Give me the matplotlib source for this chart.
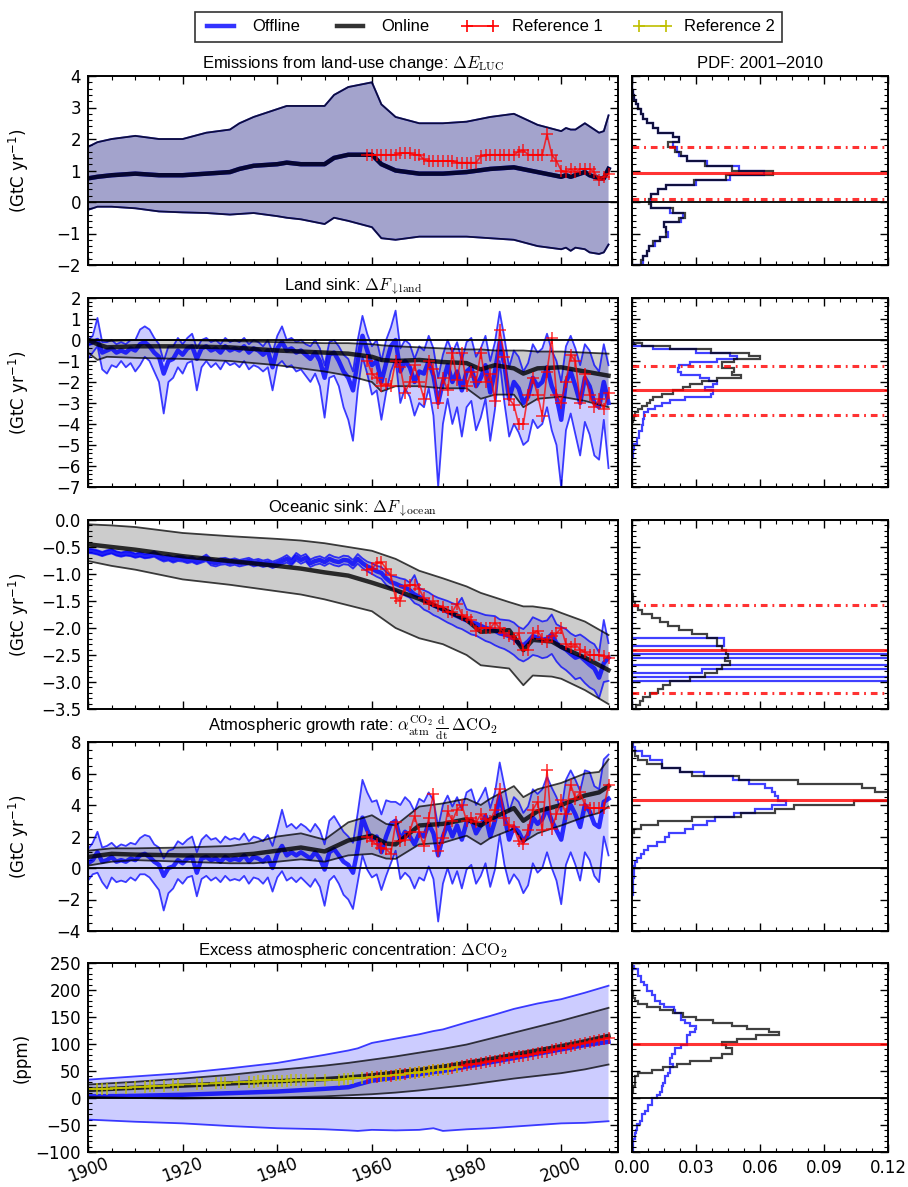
import numpy as np
import matplotlib
matplotlib.use("Agg")
import matplotlib.pyplot as plt
from matplotlib.lines import Line2D
from matplotlib.ticker import AutoMinorLocator, MultipleLocator, FormatStrFormatter

plt.rcParams.update({
    "font.family": "DejaVu Sans",
    "font.size": 12,
    "mathtext.fontset": "cm",
    "axes.linewidth": 1.4,
    "xtick.direction": "in",
    "ytick.direction": "in",
    "xtick.top": True,
    "ytick.right": True,
    "xtick.major.size": 6,
    "ytick.major.size": 6,
    "xtick.minor.size": 3,
    "ytick.minor.size": 3,
    "xtick.major.width": 1.0,
    "ytick.major.width": 1.0,
    "xtick.minor.width": 0.8,
    "ytick.minor.width": 0.8,
    "xtick.major.pad": 5,
    "ytick.major.pad": 5,
})

TEXT_FONT = dict(family="Liberation Sans", size=12)

years = np.arange(1900, 2011)
ref_years = np.arange(1959, 2011)

# ---------------- land-use change emissions (offline ~ online) ----------------
luc_years = [1900, 1902, 1905, 1910, 1915, 1920, 1925, 1930, 1932, 1935, 1940, 1942,
             1945, 1950, 1952, 1955, 1960, 1962, 1965, 1970, 1975, 1980, 1985, 1990,
             1995, 2000, 2001, 2002, 2003, 2005, 2006, 2008, 2009, 2010]
luc_hi = [1.75, 1.9, 2.0, 2.1, 2.0, 2.0, 2.2, 2.3, 2.5, 2.7, 2.95, 3.05,
          3.05, 3.05, 3.4, 3.65, 3.8, 3.1, 2.7, 2.5, 2.5, 2.55, 2.7, 2.8,
          2.45, 2.25, 2.35, 2.3, 2.3, 2.5, 2.4, 2.2, 2.25, 2.75]
luc_mid = [0.75, 0.8, 0.85, 0.9, 0.85, 0.85, 0.9, 0.95, 1.05, 1.15, 1.2, 1.25,
           1.2, 1.2, 1.4, 1.5, 1.5, 1.2, 1.0, 0.9, 0.9, 0.95, 1.05, 1.1,
           0.95, 0.8, 0.85, 0.8, 0.85, 0.95, 0.85, 0.75, 0.75, 1.05]
luc_lo = [-0.25, -0.15, -0.15, -0.2, -0.3, -0.33, -0.35, -0.4, -0.38, -0.35, -0.45, -0.5,
          -0.55, -0.7, -0.5, -0.6, -0.8, -1.15, -1.2, -1.1, -1.1, -1.1, -1.15, -1.2,
          -1.4, -1.5, -1.45, -1.55, -1.45, -1.5, -1.6, -1.65, -1.6, -1.35]
luc_ref = [1.5, 1.5, 1.5, 1.5, 1.5, 1.5, 1.5, 1.55, 1.55, 1.55, 1.5,
           1.5, 1.35, 1.3, 1.3, 1.3, 1.3, 1.3, 1.3, 1.25, 1.25,
           1.25, 1.25, 1.25, 1.45, 1.5, 1.5, 1.5, 1.5, 1.5, 1.5,
           1.5, 1.6, 1.65, 1.5, 1.5, 1.5, 1.5, 2.15, 1.5, 1.3,
           1.0, 0.95, 1.05, 0.95, 1.05, 1.05, 1.05, 0.95, 0.7, 0.8, 0.9]

# ---------------- land sink ----------------
land_off_mid = [-0.2, -0.1, 0.0, -0.6, -0.5, -0.4, -0.6, -0.5, -0.6, -0.4,
                -0.5, -0.2, -0.1, -0.3, -0.6, -0.8, -1.6, -1.0, -0.9, -0.5,
                -0.7, -0.4, -0.3, -0.9, -0.4, -0.3, -0.5, -0.4, -0.6, -0.3,
                -0.5, -0.4, -0.5, -0.3, -0.6, -0.4, -0.5, -0.7, -0.5, -1.3,
                -0.4, -0.1, -0.5, -0.4, -0.6, -0.5, -0.7, -0.9, -0.6, -1.0,
                -1.8, -0.7, -0.6, -1.0, -1.5, -1.8, -2.4, -1.0, 0.2, -0.5,
                -1.2, -1.0, -2.0, -1.1, -0.3, 0.0, -1.5, -1.0, -1.3, -2.0,
                -1.5, -1.6, -1.0, -1.7, -3.0, -2.0, -1.2, -2.0, -1.5, -2.4,
                -1.5, -1.3, -2.2, -1.8, -1.2, -2.5, -1.5, -0.1, -1.2, -2.8,
                -2.0, -2.3, -3.0, -2.7, -1.8, -2.2, -2.0, -1.3, -2.2, -2.7,
                -3.8, -2.0, -1.5, -2.2, -3.0, -1.8, -2.2, -3.0, -3.2, -2.0, -3.0]
land_off_hi = [0.0, 0.2, 1.05, -0.1, -0.1, 0.0, -0.2, -0.1, -0.2, 0.0,
               0.0, 0.5, 0.65, 0.5, 0.1, -0.2, -1.0, -0.3, -0.3, 0.1,
               -0.2, 0.1, 0.3, -0.4, 0.0, 0.1, -0.1, 0.0, -0.2, 0.1,
               -0.1, 0.0, -0.1, 0.1, -0.2, 0.0, -0.1, -0.3, 0.0, -0.6,
               0.2, 0.65, 0.0, 0.1, -0.1, 0.0, -0.2, -0.3, 0.0, -0.4,
               -1.2, -0.1, 0.0, -0.3, -0.7, -0.9, -1.5, 0.0, 1.15, 0.3,
               -0.3, 0.0, -1.0, 0.0, 0.6, 1.4, -0.4, 0.0, -0.2, -0.9,
               -0.3, -0.5, 0.2, -0.4, -1.8, -0.7, 0.0, -0.6, -0.1, -1.0,
               -0.1, 0.1, -0.8, -0.4, 0.2, -1.0, -0.1, 1.35, 0.1, -1.3,
               -0.5, -0.8, -1.5, -1.1, -0.2, -0.6, -0.4, 0.3, -0.5, -1.0,
               -2.0, -0.3, 0.2, -0.4, -1.2, -0.2, -0.5, -1.2, -1.5, -0.2, -1.2]
land_off_lo = [-0.9, -0.6, -0.3, -1.4, -1.6, -1.2, -1.3, -1.0, -1.3, -1.1,
               -1.5, -1.2, -0.8, -1.0, -1.5, -2.0, -3.5, -2.0, -1.8, -1.3,
               -1.6, -1.1, -1.0, -2.4, -1.3, -1.0, -1.3, -1.1, -1.4, -1.0,
               -1.2, -1.1, -1.3, -1.0, -1.4, -1.2, -1.3, -1.5, -1.3, -2.4,
               -1.2, -1.0, -1.3, -1.2, -1.5, -1.4, -1.7, -2.0, -1.6, -2.2,
               -3.7, -1.8, -1.7, -2.2, -3.2, -3.8, -4.8, -2.4, -0.8, -1.6,
               -2.6, -2.4, -3.8, -2.5, -1.5, -0.9, -3.0, -2.3, -2.7, -3.6,
               -3.0, -3.2, -2.3, -3.6, -7.0, -4.0, -2.8, -4.0, -3.2, -4.6,
               -3.2, -2.9, -4.3, -3.7, -2.8, -4.8, -3.3, -1.0, -3.0, -4.6,
               -4.0, -4.4, -5.0, -4.8, -3.8, -4.2, -4.0, -3.2, -4.3, -5.0,
               -7.0, -4.3, -3.5, -4.5, -5.5, -3.9, -4.5, -5.5, -5.7, -3.8, -6.1]
land_on_years = [1900, 1902, 1904, 1910, 1920, 1930, 1940, 1950, 1955, 1960, 1962,
                 1965, 1970, 1975, 1980, 1983, 1986, 1990, 1992, 1995, 2000, 2005, 2010]
land_on_mid = [0.0, -0.2, -0.35, -0.3, -0.3, -0.35, -0.5, -0.6, -0.65, -0.8, -0.95,
               -1.0, -0.95, -1.05, -1.1, -1.4, -1.2, -1.35, -1.6, -1.35, -1.3, -1.5, -1.7]
land_on_hi = [0.05, 0.0, -0.05, 0.0, 0.0, -0.05, -0.1, -0.15, -0.15, -0.2, -0.25,
              -0.3, -0.35, -0.4, -0.45, -0.45, -0.5, -0.5, -0.5, -0.55, -0.55, -0.6, -0.65]
land_on_lo = [-0.6, -0.95, -0.8, -0.85, -0.9, -1.0, -1.2, -1.5, -1.7, -2.0, -2.45,
              -2.2, -2.2, -2.3, -2.3, -2.8, -2.6, -2.6, -3.2, -2.8, -2.7, -2.9, -3.2]
land_ref = [-1.0, -1.6, -1.8, -2.2, -2.1, -2.2, -1.0, -1.3, -2.5, -2.0, -1.2,
            -2.0, -2.8, -1.0, -1.4, -3.0, -1.8, -2.4, -0.6, -1.9, -0.6,
            -2.2, -1.5, -2.0, -0.6, -2.0, -1.6, -2.9, 0.5, -0.8, -2.8,
            -3.1, -4.0, -4.0, -2.6, -1.8, -2.6, -3.6, -1.5, 0.1, -2.6,
            -3.0, -2.0, -0.7, -1.0, -3.0, -1.6, -2.6, -3.2, -2.8, -3.3, -2.5]

# ---------------- ocean sink ----------------
ocean_off_mid = [-0.57, -0.58, -0.60, -0.63, -0.60, -0.58, -0.62, -0.64, -0.62, -0.63,
                 -0.66, -0.64, -0.67, -0.66, -0.63, -0.68, -0.72, -0.70, -0.74, -0.71,
                 -0.72, -0.75, -0.73, -0.77, -0.74, -0.70, -0.78, -0.80, -0.77, -0.76,
                 -0.79, -0.77, -0.80, -0.78, -0.76, -0.80, -0.78, -0.81, -0.79, -0.83,
                 -0.80, -0.76, -0.72, -0.78, -0.68, -0.74, -0.70, -0.80, -0.76, -0.74,
                 -0.78, -0.72, -0.76, -0.78, -0.74, -0.75, -0.82, -0.72, -0.80, -0.86,
                 -0.90, -0.95, -0.98, -1.08, -1.15, -1.18, -1.22, -1.25, -1.30, -1.38,
                 -1.42, -1.48, -1.52, -1.58, -1.62, -1.66, -1.70, -1.74, -1.78, -1.82,
                 -1.86, -1.90, -1.92, -1.96, -2.00, -2.02, -2.05, -2.10, -2.12, -2.15,
                 -2.20, -2.28, -2.32, -2.25, -2.15, -2.18, -2.22, -2.20, -2.12, -2.28,
                 -2.35, -2.40, -2.48, -2.55, -2.52, -2.60, -2.68, -2.75, -2.92, -2.65, -2.55]
ocean_off_hi = [-0.53, -0.54, -0.56, -0.59, -0.56, -0.54, -0.58, -0.60, -0.58, -0.59,
                -0.62, -0.60, -0.63, -0.62, -0.58, -0.63, -0.67, -0.65, -0.69, -0.66,
                -0.67, -0.70, -0.68, -0.72, -0.69, -0.64, -0.72, -0.74, -0.71, -0.70,
                -0.73, -0.71, -0.74, -0.72, -0.70, -0.74, -0.72, -0.75, -0.73, -0.77,
                -0.74, -0.70, -0.65, -0.72, -0.61, -0.67, -0.63, -0.73, -0.69, -0.67,
                -0.71, -0.64, -0.68, -0.70, -0.66, -0.67, -0.74, -0.63, -0.71, -0.77,
                -0.80, -0.85, -0.87, -0.96, -1.03, -1.05, -1.08, -1.10, -1.16, -1.02,
                -1.26, -1.30, -1.34, -1.40, -1.44, -1.47, -1.50, -1.54, -1.57, -1.44,
                -1.65, -1.68, -1.70, -1.73, -1.76, -1.77, -1.78, -1.84, -1.85, -1.86,
                -1.90, -1.98, -2.02, -1.93, -1.80, -1.84, -1.88, -1.86, -1.75, -1.93,
                -1.98, -2.02, -2.10, -2.15, -2.12, -2.18, -2.25, -2.30, -2.45, -1.85, -2.28]
ocean_off_lo = [-0.61, -0.62, -0.64, -0.67, -0.64, -0.62, -0.66, -0.68, -0.66, -0.67,
                -0.70, -0.68, -0.71, -0.70, -0.68, -0.73, -0.77, -0.75, -0.79, -0.76,
                -0.77, -0.80, -0.78, -0.82, -0.79, -0.76, -0.84, -0.86, -0.83, -0.82,
                -0.85, -0.83, -0.86, -0.84, -0.82, -0.86, -0.84, -0.87, -0.85, -0.89,
                -0.86, -0.82, -0.79, -0.84, -0.75, -0.81, -0.77, -0.87, -0.83, -0.81,
                -0.85, -0.80, -0.84, -0.86, -0.82, -0.83, -0.90, -0.81, -0.89, -0.95,
                -1.00, -1.05, -1.09, -1.20, -1.27, -1.31, -1.36, -1.40, -1.44, -1.54,
                -1.58, -1.66, -1.70, -1.76, -1.80, -1.85, -1.90, -1.94, -1.99, -2.02,
                -2.07, -2.12, -2.14, -2.19, -2.24, -2.27, -2.32, -2.36, -2.39, -2.44,
                -2.50, -2.58, -2.62, -2.57, -2.50, -2.52, -2.56, -2.54, -2.48, -2.62,
                -2.72, -2.78, -2.86, -2.95, -2.92, -3.02, -3.10, -3.15, -3.30, -3.00, -2.98]
ocean_on_years = [1900, 1905, 1910, 1920, 1930, 1940, 1945, 1950, 1955, 1960, 1965,
                  1970, 1975, 1980, 1983, 1989, 1992, 1994, 1998, 2000, 2005, 2010]
ocean_on_mid = [-0.45, -0.5, -0.55, -0.67, -0.76, -0.85, -0.9, -0.97, -1.03, -1.16, -1.3,
                -1.46, -1.65, -1.85, -2.07, -2.04, -2.41, -2.22, -2.25, -2.35, -2.55, -2.78]
ocean_on_hi = [-0.08, -0.1, -0.13, -0.24, -0.3, -0.35, -0.38, -0.43, -0.5, -0.57, -0.72,
               -0.94, -1.08, -1.23, -1.35, -1.52, -1.6, -1.6, -1.65, -1.72, -1.88, -2.13]
ocean_on_lo = [-0.76, -0.85, -0.92, -1.1, -1.2, -1.32, -1.38, -1.47, -1.58, -1.69, -2.0,
               -2.19, -2.3, -2.5, -2.69, -2.75, -3.06, -2.88, -2.9, -2.94, -3.15, -3.41]
ocean_ref = [-0.92, -0.90, -0.80, -0.78, -0.90, -1.02, -1.45, -1.50, -1.22, -1.20, -1.20,
             -1.28, -1.45, -1.55, -1.50, -1.60, -1.62, -1.70, -1.70, -1.55, -1.75,
             -1.80, -1.85, -2.05, -2.00, -2.00, -2.00, -1.90, -2.00, -2.10, -2.15,
             -2.20, -2.10, -2.40, -2.40, -2.10, -2.05, -2.20, -2.25, -2.15, -2.10,
             -2.00, -2.30, -2.35, -2.30, -2.40, -2.45, -2.50, -2.50, -2.50, -2.52, -2.55]

# ---------------- atmospheric growth rate ----------------
atm_off_mid = [0.3, 0.5, 1.0, 0.4, 0.5, 0.7, 0.4, 0.5, 0.4, 0.6,
               0.5, 0.8, 0.9, 0.7, 0.4, 0.2, -0.5, 0.0, 0.1, 0.5,
               0.3, 0.6, 0.7, -0.3, 0.6, 0.7, 0.5, 0.6, 0.4, 0.7,
               0.5, 0.6, 0.5, 0.8, 0.4, 0.7, 0.6, 0.4, 0.7, 0.0,
               0.9, 1.4, 0.8, 1.0, 0.8, 1.0, 0.8, 0.6, 1.0, 0.6,
               -0.1, 1.0, 1.2, 0.8, 0.4, 0.2, -0.3, 1.2, 3.2, 2.4,
               1.8, 2.0, 1.0, 2.0, 2.8, 3.0, 1.8, 2.3, 2.0, 1.5,
               2.2, 2.0, 2.8, 2.2, 0.8, 2.0, 2.8, 2.0, 2.7, 1.8,
               2.9, 3.1, 2.2, 2.7, 3.3, 2.0, 3.0, 4.6, 3.3, 1.8,
               2.6, 2.3, 1.7, 2.1, 3.2, 2.8, 3.1, 3.8, 3.0, 2.4,
               1.8, 3.4, 4.0, 3.4, 2.6, 4.0, 3.6, 2.8, 2.6, 4.2, 4.4]
atm_off_hi = [1.2, 1.6, 2.3, 1.3, 1.4, 1.6, 1.3, 1.5, 1.4, 1.6,
              1.5, 1.9, 2.1, 2.0, 1.5, 1.3, 0.6, 1.1, 1.2, 1.7,
              1.5, 1.8, 2.0, 1.0, 1.8, 2.1, 1.8, 1.9, 1.6, 2.0,
              1.8, 1.9, 1.8, 2.2, 1.7, 2.0, 1.9, 1.7, 2.1, 1.4,
              2.5, 3.7, 2.6, 2.8, 2.5, 2.8, 2.6, 2.3, 2.8, 2.4,
              1.5, 3.0, 3.3, 2.8, 2.3, 2.0, 1.6, 3.5, 5.6, 4.8,
              4.2, 4.3, 3.4, 4.3, 4.2, 4.2, 4.0, 4.5, 4.2, 3.6,
              4.4, 4.2, 4.8, 4.3, 2.6, 4.0, 4.6, 3.9, 4.5, 3.7,
              4.8, 5.0, 4.0, 4.5, 5.1, 3.8, 4.8, 6.7, 5.2, 3.6,
              4.5, 4.2, 3.5, 3.9, 5.0, 4.7, 5.0, 5.8, 5.1, 4.5,
              3.6, 5.6, 6.2, 5.6, 4.9, 6.2, 6.1, 5.2, 5.0, 6.9, 7.2]
atm_off_lo = [-0.8, -0.4, -0.3, -0.9, -1.3, -0.6, -0.9, -0.8, -0.9, -0.6,
              -0.8, -0.4, -0.4, -0.6, -1.0, -1.4, -2.7, -1.6, -1.3, -0.7,
              -1.0, -0.6, -0.5, -1.8, -0.7, -0.5, -0.8, -0.6, -0.9, -0.5,
              -0.8, -0.7, -0.8, -0.5, -1.0, -0.6, -0.7, -1.0, -0.6, -1.5,
              -0.6, -0.2, -0.8, -0.6, -0.9, -0.6, -0.9, -1.2, -0.7, -1.2,
              -2.4, -0.8, -0.5, -1.0, -1.7, -2.0, -2.6, -0.9, 0.8, -0.1,
              -0.6, -0.4, -1.4, -0.5, 0.3, 1.1, -0.7, -0.3, -0.6, -1.3,
              -0.6, -0.8, 0.1, -0.7, -3.4, -1.0, 0.0, -1.0, -0.2, -1.3,
              -0.1, 0.2, -1.0, -0.5, 0.3, -1.2, -0.1, 2.1, 0.2, -1.0,
              -0.4, -0.8, -1.6, -1.1, 0.3, -0.3, 0.0, 1.0, 0.0, -0.8,
              -2.3, 0.2, 1.0, 0.2, -0.8, 1.0, 0.5, -0.5, -0.9, 2.0, 0.8]
atm_on_years = [1900, 1905, 1910, 1920, 1930, 1935, 1940, 1945, 1950, 1955, 1960, 1963,
                1965, 1970, 1975, 1980, 1983, 1985, 1990, 1992, 1995, 2000, 2005, 2008, 2010]
atm_on_mid = [0.7, 0.9, 0.85, 0.8, 0.8, 0.9, 1.1, 1.3, 1.05, 1.75, 2.05, 1.55,
              1.5, 2.7, 2.8, 3.1, 2.7, 3.1, 3.8, 3.0, 3.6, 4.0, 4.6, 4.8, 5.2]
atm_on_hi = [1.1, 1.25, 1.25, 1.3, 1.4, 1.6, 2.0, 2.2, 1.8, 2.9, 3.35, 2.8,
             2.7, 3.9, 4.1, 4.4, 4.0, 4.4, 5.2, 4.5, 5.0, 5.4, 6.0, 6.1, 6.9]
atm_on_lo = [0.15, 0.4, 0.5, 0.4, 0.3, 0.3, 0.4, 0.55, 0.4, 0.8, 0.9, 0.6,
             0.58, 1.5, 1.6, 2.05, 1.5, 1.9, 2.5, 1.65, 2.2, 2.7, 3.25, 3.5, 3.9]
atm_ref = [2.0, 1.7, 1.5, 1.3, 1.2, 0.9, 2.9, 1.7, 1.8, 2.3, 3.3,
           2.3, 1.4, 3.2, 4.7, 1.1, 1.9, 3.6, 3.0, 3.7, 4.0,
           3.0, 3.2, 2.9, 3.4, 3.1, 3.0, 3.7, 5.0, 3.2, 2.7,
           2.6, 1.7, 1.5, 2.4, 3.7, 4.2, 2.4, 6.2, 2.5, 3.4,
           4.3, 3.4, 5.3, 4.4, 4.8, 4.0, 3.8, 3.8, 3.8, 3.8, 5.3]

# ---------------- excess atmospheric CO2 ----------------
co2_off_years = [1900, 1910, 1920, 1930, 1940, 1950, 1955, 1957, 1960, 1965, 1970, 1973,
                 1975, 1980, 1985, 1990, 1995, 2000, 2005, 2010]
co2_off_mid = [3, 4, 6, 9, 12, 17, 20, 25, 32, 38, 44, 48, 50, 58, 66, 74, 82, 90, 98, 104]
co2_off_hi = [34, 40, 46, 55, 65, 80, 88, 92, 102, 110, 118, 124, 127, 140, 152, 165, 175,
              183, 195, 208]
co2_off_lo = [-40, -44, -47, -52, -56, -58, -60, -61, -59, -60, -59, -56, -61, -58, -56,
              -53, -50, -47, -46, -43]
co2_on_years = [1900, 1910, 1920, 1930, 1940, 1950, 1955, 1960, 1965, 1970, 1975, 1980,
                1985, 1990, 1995, 2000, 2005, 2010]
co2_on_mid = [15, 19, 23, 27, 31, 35, 38, 42, 47, 52, 58, 65, 72, 80, 88, 96, 105, 115]
co2_on_hi = [25, 30, 36, 43, 52, 60, 65, 71, 77, 84, 91, 99, 110, 121, 132, 143, 155, 167]
co2_on_lo = [2, 0, -1, 0, 1, 3, 5, 7, 10, 14, 19, 24, 30, 36, 41, 46, 53, 62]
co2_ref = [37.9, 38.9, 39.6, 40.5, 41.0, 41.6, 42.3, 43.6, 44.4, 45.6, 46.6,
           47.7, 48.6, 49.3, 51.6, 52.1, 53.2, 54.2, 56.0, 57.5, 58.8,
           60.7, 62.1, 63.0, 64.6, 66.4, 67.9, 69.1, 70.9, 73.4, 74.9,
           76.4, 77.5, 78.4, 79.0, 80.7, 82.6, 84.5, 85.6, 88.5, 90.1,
           91.7, 93.3, 95.4, 97.9, 99.6, 101.8, 103.6, 105.6, 107.4, 109.2, 111.6]
ice_years = [1900, 1902, 1903, 1904, 1906, 1908, 1910, 1912, 1913, 1914, 1916, 1918,
             1919, 1923, 1924, 1927, 1928, 1929, 1932, 1934, 1935, 1936, 1937, 1938,
             1939, 1940, 1941, 1942, 1943, 1944, 1945, 1946, 1948, 1950, 1953, 1954,
             1955, 1956, 1958, 1960, 1962, 1963, 1965, 1966, 1968, 1969, 1970, 1971,
             1972, 1973, 1974, 1975, 1976, 1978]
ice_co2 = [17, 16.5, 17, 17.5, 18, 19, 20, 21, 21.5, 22, 23, 24,
           25, 25.5, 26, 27, 28, 28.5, 29.5, 30, 30.5, 31, 31, 31.5,
           31.5, 32, 32, 32, 32.5, 32.5, 32.5, 32.5, 33, 33, 34, 35,
           36, 36.5, 37.5, 39, 40.5, 41.5, 43, 43.5, 45.5, 46.5, 47.5, 48.5,
           49.5, 51, 52, 53, 54, 57]

# ---------------- PDFs over 2001-2010 ----------------
luc_pdf_edges = np.linspace(-2, 4, 41)
luc_pdf_off = [0.005, 0.005, 0.007, 0.008, 0.011, 0.013, 0.017, 0.016, 0.015, 0.023,
               0.024, 0.018, 0.009, 0.009, 0.009, 0.012, 0.016, 0.030, 0.046, 0.062,
               0.050, 0.035, 0.026, 0.022, 0.021, 0.019, 0.022, 0.019, 0.012, 0.010,
               0.007, 0.005, 0.004, 0.003, 0.002, 0.001, 0.0005, 0, 0, 0]
luc_pdf_on = [0.004, 0.005, 0.007, 0.008, 0.010, 0.013, 0.016, 0.016, 0.015, 0.022,
              0.025, 0.019, 0.009, 0.008, 0.009, 0.012, 0.016, 0.029, 0.044, 0.066,
              0.047, 0.034, 0.026, 0.023, 0.020, 0.017, 0.022, 0.019, 0.012, 0.010,
              0.007, 0.005, 0.004, 0.003, 0.002, 0.001, 0.0005, 0, 0, 0]
land_pdf_edges = np.linspace(-6, 0, 41)
land_pdf_off = [0, 0, 0, 0.0003, 0.0003, 0.001, 0.001, 0.0025, 0.0025, 0.0035,
                0.0035, 0.0045, 0.0045, 0.005, 0.005, 0.0056, 0.0056, 0.0077, 0.011, 0.014,
                0.018, 0.025, 0.037, 0.038, 0.034, 0.038, 0.040, 0.036, 0.032, 0.023,
                0.0215, 0.022, 0.027, 0.040, 0.049, 0.046, 0.030, 0.010, 0.001, 0]
land_pdf_on = [0, 0, 0, 0, 0, 0, 0, 0, 0, 0,
               0, 0, 0, 0, 0.0003, 0.001, 0.0014, 0.003, 0.0045, 0.007,
               0.0084, 0.010, 0.014, 0.019, 0.024, 0.027, 0.033, 0.040, 0.051, 0.047,
               0.048, 0.042, 0.042, 0.048, 0.060, 0.055, 0.037, 0.018, 0.0045, 0.0006]
ocean_pdf_edges = np.linspace(-3.5, -1.3, 31)
ocean_pdf_off = [0, 0, 0, 0, 0, 0, 0, 0.2, 0, 0.033,
                 0.2, 0, 0, 0.2, 0, 0, 0.043, 0.043, 0, 0,
                 0, 0, 0, 0, 0, 0, 0, 0, 0, 0]
ocean_pdf_on = [0.002, 0.0038, 0.0053, 0.0084, 0.012, 0.0147, 0.0178, 0.027, 0.034, 0.040,
                0.042, 0.046, 0.0435, 0.045, 0.044, 0.042, 0.040, 0.040, 0.035, 0.028,
                0.022, 0.017, 0.013, 0.0092, 0.0045, 0.003, 0.0014, 0.0005, 0.0003, 0]
atm_pdf_edges = np.linspace(-1.7, 7.92, 38)
atm_pdf_off = [0.0003, 0.0005, 0.0006, 0.0006, 0.0008, 0.0008, 0.0008, 0.0014, 0.0025, 0.004,
               0.0056, 0.0077, 0.0119, 0.0155, 0.0175, 0.0248, 0.0288, 0.0353, 0.039, 0.048,
               0.0577, 0.0655, 0.072, 0.0686, 0.067, 0.0655, 0.0623, 0.055, 0.0475, 0.0339,
               0.0225, 0.0142, 0.0142, 0.0084, 0.0045, 0.0014, 0.0003]
atm_pdf_on = [0, 0, 0, 0, 0, 0, 0, 0, 0, 0,
              0, 0, 0, 0, 0, 0.001, 0.004, 0.012, 0.028, 0.051,
              0.067, 0.076, 0.104, 0.13, 0.125, 0.114, 0.108, 0.078, 0.050, 0.028,
              0.0225, 0.014, 0.007, 0.003, 0.0015, 0, 0]
co2_pdf_edges = np.linspace(-100, 250, 61)
co2_pdf_off = [0.0003, 0.0003, 0.0006, 0.0006, 0.0013, 0.0013, 0.0019, 0.0025, 0.0025, 0.0038,
               0.0045, 0.0045, 0.006, 0.0077, 0.0077, 0.0092, 0.0092, 0.0116, 0.013, 0.014,
               0.014, 0.0147, 0.0155, 0.0155, 0.017, 0.0178, 0.0178, 0.0194, 0.0178, 0.0178,
               0.0186, 0.0202, 0.0202, 0.023, 0.0256, 0.0256, 0.026, 0.027, 0.0295, 0.030,
               0.027, 0.025, 0.023, 0.023, 0.020, 0.0195, 0.015, 0.013, 0.0108, 0.0108,
               0.0092, 0.0069, 0.0069, 0.0056, 0.004, 0.004, 0.003, 0.003, 0.0009, 0]
co2_pdf_on = [0, 0, 0, 0, 0, 0, 0, 0, 0, 0,
              0, 0, 0, 0, 0, 0, 0, 0, 0, 0.0003,
              0.0003, 0.0014, 0.0014, 0.0014, 0.003, 0.0092, 0.0147, 0.021, 0.027, 0.037,
              0.042, 0.047, 0.047, 0.044, 0.042, 0.049, 0.058, 0.069, 0.064, 0.054,
              0.047, 0.038, 0.030, 0.024, 0.019, 0.0131, 0.0069, 0.003, 0.0014, 0.0006,
              0.0006, 0, 0, 0, 0, 0, 0, 0, 0, 0]

GTC = r"(GtC yr$^{-1}$)"
panels = [
    dict(title=r"Emissions from land-use change: $\Delta E_{\rm LUC}$", ylim=(-2, 4), step=1,
         ylabel=GTC, zero=True,
         off=(luc_years, luc_lo, luc_mid, luc_hi), on=(luc_years, luc_lo, luc_mid, luc_hi),
         ref=luc_ref, edges=luc_pdf_edges, pdf_off=luc_pdf_off, pdf_on=luc_pdf_on,
         best=0.93, spread=(0.1, 1.75)),
    dict(title=r"Land sink: $\Delta F_{\downarrow{\rm land}}$", ylim=(-7, 2), step=1,
         ylabel=GTC, zero=True,
         off=(years, land_off_lo, land_off_mid, land_off_hi),
         on=(land_on_years, land_on_lo, land_on_mid, land_on_hi),
         ref=land_ref, edges=land_pdf_edges, pdf_off=land_pdf_off, pdf_on=land_pdf_on,
         best=-2.38, spread=(-3.56, -1.24)),
    dict(title=r"Oceanic sink: $\Delta F_{\downarrow{\rm ocean}}$", ylim=(-3.5, 0), step=0.5,
         ylabel=GTC, zero=False,
         off=(years, ocean_off_lo, ocean_off_mid, ocean_off_hi),
         on=(ocean_on_years, ocean_on_lo, ocean_on_mid, ocean_on_hi),
         ref=ocean_ref, edges=ocean_pdf_edges, pdf_off=ocean_pdf_off, pdf_on=ocean_pdf_on,
         best=-2.40, spread=(-3.2, -1.57)),
    dict(title=r"Atmospheric growth rate: $\alpha_{\rm atm}^{\rm CO_2}\,"
               r"\frac{\rm d}{\rm dt}\,\Delta{\rm CO_2}$", ylim=(-4, 8), step=2,
         ylabel=GTC, zero=True,
         off=(years, atm_off_lo, atm_off_mid, atm_off_hi),
         on=(atm_on_years, atm_on_lo, atm_on_mid, atm_on_hi),
         ref=atm_ref, edges=atm_pdf_edges, pdf_off=atm_pdf_off, pdf_on=atm_pdf_on,
         best=4.31, spread=()),
    dict(title=r"Excess atmospheric concentration: $\Delta{\rm CO_2}$", ylim=(-100, 250),
         step=50, ylabel="(ppm)", zero=True,
         off=(co2_off_years, co2_off_lo, co2_off_mid, co2_off_hi),
         on=(co2_on_years, co2_on_lo, co2_on_mid, co2_on_hi),
         ref=co2_ref, edges=co2_pdf_edges, pdf_off=co2_pdf_off, pdf_on=co2_pdf_on,
         best=100.6, spread=()),
]


def draw_ensemble(ax, x, lo, mid, hi, color):
    ax.fill_between(x, lo, hi, facecolor=color, alpha=0.2, lw=0)
    ax.plot(x, lo, color=color, lw=1.3, alpha=0.75)
    ax.plot(x, hi, color=color, lw=1.3, alpha=0.75)
    ax.plot(x, mid, color=color, lw=3.2, alpha=0.8)


W, H = 908.0, 1187.0
fig = plt.figure(figsize=(W / 100, H / 100), dpi=100)
tops = [76, 298, 520, 742, 963]
row_h = 189
dashdot = (0, (2.2, 1.6, 0.6, 1.6))
marker_style = dict(lw=1.2, marker="+", ms=8, mew=1.2)

for i, p in enumerate(panels):
    y0 = 1 - (tops[i] + row_h) / H
    ax = fig.add_axes([88 / W, y0, 530 / W, row_h / H])
    axp = fig.add_axes([632 / W, y0, 256 / W, row_h / H])
    last = i == len(panels) - 1

    # time series
    draw_ensemble(ax, *p["off"], color="blue")
    draw_ensemble(ax, *p["on"], color="black")
    ax.plot(ref_years, p["ref"], color="red", alpha=0.75, **marker_style)
    if last:
        ax.plot(ice_years, ice_co2, color="#bfbf00", alpha=0.85, **marker_style)
    if p["zero"]:
        ax.axhline(0, color="black", lw=1.3)
    ax.set_xlim(1900, 2012)
    ax.set_ylim(*p["ylim"])
    ax.xaxis.set_major_locator(MultipleLocator(20))
    ax.xaxis.set_minor_locator(AutoMinorLocator())
    ax.yaxis.set_major_locator(MultipleLocator(p["step"]))
    ax.yaxis.set_minor_locator(AutoMinorLocator())
    ax.set_title(p["title"], fontdict=TEXT_FONT, pad=6)
    ax.set_ylabel(p["ylabel"], fontsize=12, math_fontfamily="dejavusans")
    ax.yaxis.set_label_coords(-0.108, 0.5)
    if last:
        ax.tick_params(axis="x", which="major", pad=2)
        plt.setp(ax.get_xticklabels(), rotation=20, ha="center")
    else:
        ax.tick_params(labelbottom=False)

    # distribution over 2001-2010
    axp.stairs(p["pdf_off"], p["edges"], orientation="horizontal", color="blue", lw=1.6,
               alpha=0.75)
    axp.stairs(p["pdf_on"], p["edges"], orientation="horizontal", color="black", lw=1.6,
               alpha=0.75)
    axp.axhline(p["best"], color="red", lw=2.2, alpha=0.8)
    for v in p["spread"]:
        axp.axhline(v, color="red", lw=2.2, ls=dashdot, alpha=0.8)
    if p["zero"]:
        axp.axhline(0, color="black", lw=1.3)
    axp.set_xlim(0, 0.12)
    axp.set_ylim(*p["ylim"])
    axp.xaxis.set_major_locator(MultipleLocator(0.03))
    axp.xaxis.set_minor_locator(AutoMinorLocator())
    axp.xaxis.set_major_formatter(FormatStrFormatter("%.2f"))
    axp.yaxis.set_major_locator(MultipleLocator(p["step"]))
    axp.yaxis.set_minor_locator(AutoMinorLocator())
    axp.tick_params(labelleft=False)
    if not last:
        axp.tick_params(labelbottom=False)
    if i == 0:
        axp.set_title("PDF: 2001\u20132010", fontdict=TEXT_FONT, pad=6)

handles = [
    Line2D([], [], color="blue", lw=3.2, alpha=0.8, label="Offline"),
    Line2D([], [], color="black", lw=3.2, alpha=0.8, label="Online"),
    Line2D([], [], color="red", label="Reference 1", **marker_style),
    Line2D([], [], color="#bfbf00", label="Reference 2", **marker_style),
]
leg = fig.legend(handles=handles, loc="upper center", bbox_to_anchor=(0.538, 0.997), ncol=4,
                 frameon=True, fancybox=False, numpoints=2, prop=TEXT_FONT,
                 handlelength=2.2, columnspacing=1.9, borderpad=0.45)
leg.get_frame().set_edgecolor("black")
leg.get_frame().set_linewidth(1.2)

fig.savefig("out.png", dpi=100)
